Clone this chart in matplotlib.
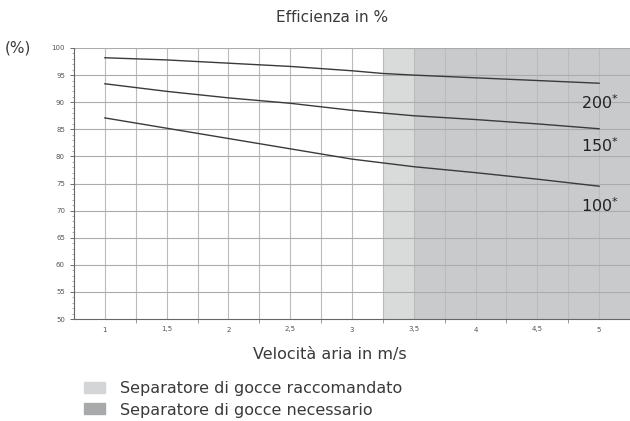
import numpy as np
import matplotlib.pyplot as plt
from matplotlib.patches import Rectangle

velocita = [1, 1.5, 2, 2.5, 3, 3.25, 3.5, 4, 4.5, 5]
eff_200 = [98.2, 97.8, 97.2, 96.6, 95.8, 95.3, 95.0, 94.5, 94.0, 93.5]
eff_150 = [93.4, 92.0, 90.8, 89.8, 88.5, 88.0, 87.5, 86.8, 86.0, 85.1]
eff_100 = [87.1, 85.2, 83.3, 81.4, 79.5, 78.8, 78.1, 77.0, 75.8, 74.5]
serie = [("200", eff_200, 89.9), ("150", eff_150, 81.9), ("100", eff_100, 70.9)]

x_labels = ["1", "1,5", "2", "2,5", "3", "3,5", "4", "4,5", "5"]
x_label_pos = [1, 1.5, 2, 2.5, 3, 3.5, 4, 4.5, 5]

plt.rcParams['font.family'] = ['DejaVu Sans']

fig = plt.figure(figsize=(6.3, 4.21), dpi=100)
ax = fig.add_axes([74 / 630, 1 - 319 / 421, 556 / 630, 271 / 421])

ax.set_xlim(0.75, 5.25)
ax.set_ylim(50, 100)

# zone raccomandato / necessario
ax.axvspan(3.25, 3.5, color='#d9dada', zorder=0, lw=0)
ax.axvspan(3.5, 5.25, color='#c8cacb', zorder=0, lw=0)

# griglia
for xv in np.arange(1, 5.01, 0.25):
    ax.axvline(xv, color='#b9bbbc', lw=0.8, zorder=1)
for yv in range(55, 101, 5):
    ax.axhline(yv, color='#a9abac', lw=0.8, zorder=1)

for nome, vals, ylab in serie:
    ax.plot(velocita, vals, color='#3a3a3a', lw=1.0, zorder=3)
    ax.text(5.16, ylab, nome + r"$^{*}$", ha='right', va='center', fontsize=11.5,
            color='#222222')

ax.set_xticks(x_label_pos)
ax.set_xticklabels(x_labels, va='baseline')
ax.set_xticks(np.arange(1.25, 5.01, 0.5), minor=True)
ax.set_yticks(range(50, 101, 5))
ax.set_yticks(range(50, 101, 1), minor=True)
ax.tick_params(axis='both', labelsize=5, colors='#555555', width=0.6)
ax.tick_params(axis='x', which='major', length=0, pad=9)
ax.tick_params(axis='x', which='minor', length=3, width=0.6, colors='#888888')
ax.tick_params(axis='y', which='major', length=3)
ax.tick_params(axis='y', which='minor', length=1.5, width=0.5, colors='#888888')

for s in ['top', 'right']:
    ax.spines[s].set_visible(False)
ax.spines['left'].set_color('#666666')
ax.spines['bottom'].set_color('#666666')

fig.text(332 / 630, 1 - 18 / 421, "Efficienza in %", ha='center', va='center',
         fontsize=11, color='#3a3a3a')
fig.text(18 / 630, 1 - 48 / 421, "(%)", ha='center', va='center', fontsize=11,
         color='#3a3a3a')
fig.text(330 / 630, 1 - 355 / 421, "Velocità aria in m/s", ha='center', va='center',
         fontsize=11.5, color='#3a3a3a')

fig.patches.append(Rectangle((84 / 630, 1 - 393 / 421), 21 / 630, 11 / 421,
                             transform=fig.transFigure, color='#d4d5d6'))
fig.patches.append(Rectangle((84 / 630, 1 - 414 / 421), 21 / 630, 11 / 421,
                             transform=fig.transFigure, color='#a7a9ab'))
fig.text(120 / 630, 1 - 388 / 421, "Separatore di gocce raccomandato", ha='left',
         va='center', fontsize=11.5, color='#3a3a3a')
fig.text(120 / 630, 1 - 410 / 421, "Separatore di gocce necessario", ha='left',
         va='center', fontsize=11.5, color='#3a3a3a')

fig.savefig('out.png', dpi=100)
